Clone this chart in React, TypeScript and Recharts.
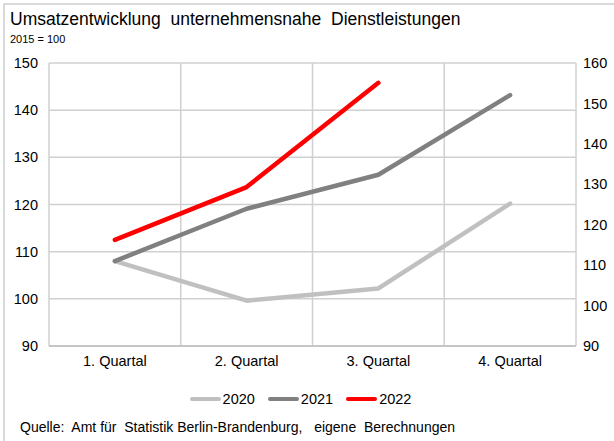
import React from 'react';
import { LineChart, Line, XAxis, YAxis, CartesianGrid, Legend } from 'recharts';

const quarters = ['1. Quartal', '2. Quartal', '3. Quartal', '4. Quartal'];
const values2020 = [108, 99.6, 102.2, 120.2];
const values2021 = [108, 119.1, 126.3, 143.2];
const values2022 = [112.5, 123.7, 145.8, null];
const leftTicks = [90, 100, 110, 120, 130, 140, 150];
const rightTicks = [90, 100, 110, 120, 130, 140, 150, 160];

const seriesInfo = [
  { key: 'y2020', name: '2020', color: '#c0c0c0' },
  { key: 'y2021', name: '2021', color: '#808080' },
  { key: 'y2022', name: '2022', color: '#ff0000' },
];

const chartData = quarters.map((q, i) => ({
  quarter: q,
  y2020: values2020[i],
  y2021: values2021[i],
  y2022: values2022[i],
}));

const FONT = '"Liberation Sans", Arial, sans-serif';

const LegendContent = () => (
  <div style={{ display: 'flex', justifyContent: 'center', alignItems: 'center', fontFamily: FONT, fontSize: 14.5, color: '#000' }}>
    {seriesInfo.map(s => (
      <div key={s.key} style={{ display: 'flex', alignItems: 'center', marginRight: 13 }}>
        <span style={{ display: 'inline-block', width: 31, height: 4, borderRadius: 2, background: s.color, marginRight: 2 }} />
        <span>{s.name}</span>
      </div>
    ))}
  </div>
);

const App: React.FC = () => {
  return (
    <div style={{ position: 'absolute', left: 0, top: 0, width: 614, height: 441, background: '#fff', fontFamily: FONT }}>
      <div style={{ position: 'absolute', left: 3, top: 3, right: 0, bottom: 0, borderLeft: '2px solid #d9d9d9', borderTop: '2px solid #d9d9d9' }} />
      <div style={{ position: 'absolute', left: 10, top: 9, fontSize: 17.5, whiteSpace: 'pre', color: '#000' }}>
        {'Umsatzentwicklung  unternehmensnahe  Dienstleistungen'}
      </div>
      <div style={{ position: 'absolute', left: 10, top: 33, fontSize: 11, whiteSpace: 'pre', color: '#000' }}>
        {'2015 = 100'}
      </div>
      <div style={{ position: 'absolute', left: 20, top: 419, fontSize: 14, whiteSpace: 'pre', color: '#000' }}>
        {'Quelle:  Amt für  Statistik Berlin-Brandenburg,   eigene  Berechnungen'}
      </div>
      <LineChart
        width={614}
        height={441}
        data={chartData}
        margin={{ top: 63, right: 0, left: 0, bottom: 49 }}
        style={{ position: 'absolute', left: 0, top: 0 }}
      >
        <CartesianGrid
          yAxisId="left"
          stroke="#d0d0d0"
          strokeWidth={1.5}
          verticalCoordinatesGenerator={({ offset }: any) =>
            [0, 1, 2, 3, 4].map(k => offset.left + (k * offset.width) / 4)
          }
        />
        <XAxis
          dataKey="quarter"
          scale="band"
          tickLine={false}
          axisLine={{ stroke: '#bfbfbf', strokeWidth: 1.5 }}
          tick={{ fill: '#000', fontSize: 14.5, fontFamily: FONT }}
          tickMargin={4}
          height={30}
        />
        <YAxis
          yAxisId="left"
          domain={[90, 150]}
          ticks={leftTicks}
          tickLine={false}
          axisLine={false}
          tickSize={0}
          tickMargin={11}
          width={49}
          tick={{ fill: '#000', fontSize: 14.5, fontFamily: FONT }}
        />
        <YAxis
          yAxisId="right"
          orientation="right"
          domain={[90, 160]}
          ticks={rightTicks}
          allowDataOverflow
          tickLine={false}
          axisLine={false}
          tickSize={0}
          tickMargin={7}
          width={38}
          tick={{ fill: '#000', fontSize: 14.5, fontFamily: FONT }}
        />
        <Legend
          content={<LegendContent />}
          wrapperStyle={{ position: 'absolute', top: 391, left: 0, width: 614 }}
        />
        {seriesInfo.map(s => (
          <Line
            key={s.key}
            yAxisId="left"
            type="linear"
            dataKey={s.key}
            name={s.name}
            stroke={s.color}
            strokeWidth={4.5}
            strokeLinecap="round"
            strokeLinejoin="round"
            dot={false}
            activeDot={false}
            isAnimationActive={false}
          />
        ))}
        {/* invisible carrier so the secondary axis gets drawn */}
        <Line
          yAxisId="right"
          dataKey="y2021"
          stroke="none"
          dot={false}
          activeDot={false}
          legendType="none"
          isAnimationActive={false}
        />
      </LineChart>
    </div>
  );
};

export default App;
